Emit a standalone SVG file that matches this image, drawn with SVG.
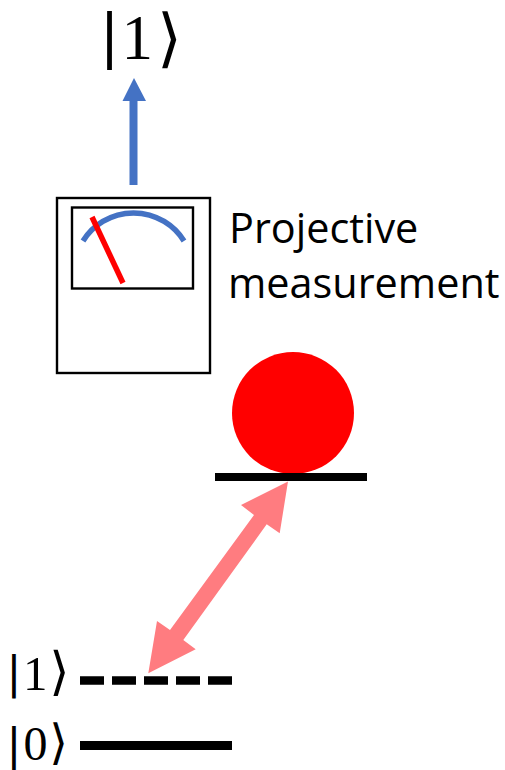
<svg xmlns="http://www.w3.org/2000/svg" width="505" height="770" viewBox="0 0 505 770">
<style>
.ket{font-family:"Liberation Serif","DejaVu Serif",serif;fill:#000}
.kb{font-family:"DejaVu Sans",sans-serif;fill:#000}
.lbl{font-family:"Open Sans","Noto Sans",sans-serif;font-size:41.4px;fill:#000}
.pink{fill:#ff7c80}
.blk{fill:#000}
</style>
<rect width="505" height="770" fill="#fff"/>
<g id="top-ket">
<text class="kb" x="99.7" y="56" font-size="58">|</text>
<text class="ket" x="121.5" y="59" font-size="63">1</text>
<text class="kb" x="157" y="60" font-size="64">⟩</text>
</g>
<g id="connectors">
<path d="M129.5 185V101H122.5L134 78L146 101H137.5V185Z" fill="#4472c4"/>
<path class="pink" d="M288 481.5L279.7 533.3L266.7 524.3L183.3 640L195.7 649.3L148.3 673.3L157 621L170 630L254 515L241 505Z"/>
</g>
<g id="meter">
<rect x="57" y="198" width="153" height="175" fill="#fff" stroke="#000" stroke-width="2.4"/>
<rect x="72" y="207.5" width="121" height="81" fill="#fff" stroke="#000" stroke-width="2.4"/>
<path d="M83 241A59.5 59.5 0 0 1 184 241" fill="none" stroke="#4472c4" stroke-width="5.5"/>
<path d="M92 217L123 283" fill="none" stroke="#f00" stroke-width="5.5"/>
</g>
<g id="measure-label">
<text class="lbl" x="229" y="242.5">Projective</text>
<text class="lbl" x="228" y="298">measurement</text>
</g>
<g id="excited-state">
<circle cx="293" cy="413" r="61" fill="#f00"/>
<rect class="blk" x="215" y="473" width="152" height="8"/>
</g>
<g id="level-1">
<text class="kb" x="6.6" y="687.5" font-size="44">|</text>
<text class="ket" x="23" y="690" font-size="49">1</text>
<text class="kb" x="49.3" y="688.5" font-size="52">⟩</text>
<path d="M80 680.5H232" stroke="#000" stroke-width="8.5" stroke-dasharray="24 8" fill="none"/>
</g>
<g id="level-0">
<text class="kb" x="6.6" y="759.5" font-size="44">|</text>
<text class="ket" x="23.5" y="759.5" font-size="48">0</text>
<text class="kb" x="49.3" y="758.5" font-size="48">⟩</text>
<rect class="blk" x="80" y="741" width="152" height="9"/>
</g>
</svg>
